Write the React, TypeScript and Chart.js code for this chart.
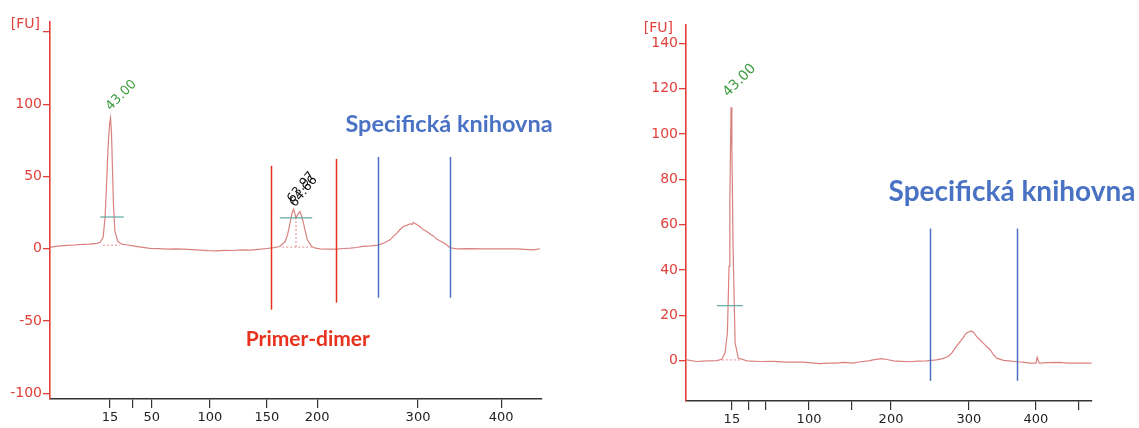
import React, { useEffect, useRef } from 'react';
import { Chart, registerables } from 'chart.js';

Chart.register(...registerables);

// ---------- Left run (with primer-dimer) ----------
const leftTime = [0, 1.5, 3.5, 5, 6.7, 8, 9.6, 10.2, 10.8, 11.2, 11.5, 11.8, 12.1, 12.3, 12.5, 12.7, 12.9, 13.2, 13.8, 14.6, 15.5, 16.9, 18.5, 20.3, 22, 23.8, 25.5, 27.0, 28.8, 30.5, 32.2, 33.9, 35.5, 37.2, 39, 40.7, 42.4, 44.1, 45.5, 46.7, 47.8, 48.3, 48.8, 49.2, 49.5, 49.8, 50.0, 50.3, 50.8, 51.1, 51.5, 52.3, 53.2, 54.0, 54.9, 56.5, 58.3, 59.7, 61.0, 62.3, 63.6, 65.2, 66.7, 67.9, 69.1, 69.8, 70.5, 71.2, 71.8, 72.5, 73.2, 73.6, 73.8, 74.3, 74.9, 75.4, 75.9, 76.5, 77.2, 77.9, 78.6, 79.2, 79.9, 80.6, 81.3, 82.7, 85, 88.0, 91, 94.9, 96.5, 98.2, 99.6];
const leftFU = [1.0, 1.8, 2.3, 2.6, 3.0, 3.2, 3.8, 4.5, 8, 22, 45, 70, 86, 90.6, 80, 55, 30, 12, 5, 3.2, 2.8, 2.0, 1.2, 0.3, 0.1, -0.3, -0.1, -0.3, -0.6, -0.9, -1.3, -1.5, -1.1, -1.2, -0.8, -0.9, -0.4, 0.2, 0.8, 1.6, 5, 10, 18, 25, 27.4, 24, 21.2, 23.5, 25.8, 23, 18, 6.2, 1.6, 0.4, 0, -0.3, -0.2, 0.2, 0.4, 0.9, 1.6, 2.0, 2.5, 4.0, 6.2, 8.6, 10.8, 13.5, 15.4, 16.2, 17.3, 16.8, 18.2, 17.4, 15.9, 14.8, 13.1, 12.2, 10.4, 8.9, 6.7, 5.6, 4.4, 2.8, 0.7, 0, 0.1, 0, -0.1, 0, -0.4, -0.7, 0];
const leftLadderTime = [12.2, 16.7, 20.7, 32.5, 44.1, 54.3, 74.8, 91.7];
const leftLadderLabel = ['15', '', '50', '100', '150', '200', '300', '400'];
const leftYTicks = [-100, -50, 0, 50, 100, 150];
const leftYLabels = ['-100', '-50', '0', '50', '100', ''];
const leftPeaks = [{ t: 12.3, fu: 90.6, label: '43.00' }];
const leftDimerPeaks = [{ t: 49.5, fu: 27.4, label: '63.97' }, { t: 50.8, fu: 25.8, label: '64.66' }];
const leftRegionLines = [
  { t: 44.9, from: -42.2, to: 57.4, kind: 'dimer' },
  { t: 58.1, from: -37.3, to: 62.2, kind: 'dimer' },
  { t: 66.7, from: -33.9, to: 63.6, kind: 'library' },
  { t: 81.3, from: -33.9, to: 63.6, kind: 'library' },
];
const leftHalfHeights = [
  { from: 10.2, to: 15.0, fu: 22 },
  { from: 46.7, to: 53.3, fu: 21.4 },
];

// ---------- Right run (clean library) ----------
const rightTime = [0.2, 2.6, 5.1, 7.6, 8.8, 9.6, 10.2, 10.6, 10.8, 11.1, 11.3, 11.6, 12.1, 12.9, 15.0, 18.2, 21.5, 24.8, 28.8, 31, 33.0, 35, 37.1, 39, 41.2, 42.9, 45, 46.1, 48.2, 49.5, 51.1, 53, 55.2, 57, 59.3, 61.7, 63.2, 64.6, 65.5, 66.3, 67.5, 68.2, 69.0, 70.2, 70.8, 71.6, 72.4, 73.2, 74.0, 74.9, 75.7, 76.5, 78.2, 80, 81.5, 83, 84.7, 86.2, 86.5, 87.0, 89, 92.1, 94, 96.2, 99.9];
const rightFU = [0.4, -0.3, 0, 0.1, 0.7, 3.4, 12.4, 41.6, 71, 111.7, 95, 49, 7.8, 1.2, 0, -0.3, -0.2, -0.6, -0.6, -0.9, -1.2, -1.0, -1.0, -0.7, -1.0, -0.4, 0, 0.4, 1.0, 0.6, 0, -0.2, -0.4, -0.1, 0, 0.4, 1.0, 1.9, 3.5, 5.6, 8.5, 10.0, 12.2, 13.2, 12.6, 10.7, 9.3, 7.8, 6.4, 4.9, 2.8, 1.2, 0.2, -0.1, -0.4, -0.6, -1.0, -1.0, 1.6, -1.0, -0.8, -0.7, -1.0, -1.0, -1.0];
const rightLadderTime = [11.3, 15.3, 19.5, 30.3, 40.9, 50.5, 69.7, 86.2, 96.8];
const rightLadderLabel = ['15', '', '', '100', '', '200', '300', '400', ''];
const rightYTicks = [0, 20, 40, 60, 80, 100, 120, 140];
const rightYLabels = ['0', '20', '40', '60', '80', '100', '120', '140'];
const rightPeaks = [{ t: 11.1, fu: 111.7, label: '43.00' }];
const rightRegionLines = [
  { t: 60.1, from: -8.8, to: 58.3, kind: 'library' },
  { t: 81.5, from: -8.8, to: 58.3, kind: 'library' },
];
const rightHalfHeights = [{ from: 7.6, to: 14.0, fu: 24.3 }];

const RED = '#e2403a';
const TRACE = '#d9817f';
const BLUE = '#4a72c4';
const DIMER_RED = '#e8321e';
const TEAL = '#62a9a6';
const GREEN = '#3c9b3c';

type Cfg = {
  time: number[];
  fu: number[];
  ladderTime: number[];
  ladderLabel: string[];
  yTicks: number[];
  yLabels: string[];
  yMin: number;
  yMax: number;
  yWidth: number;
  xHeight: number;
  padTop: number;
  padRight: number;
  yFont: number;
  peaks: { t: number; fu: number; label: string }[];
  peakFont: number;
  peakOffset: [number, number];
  dimerPeaks: { t: number; fu: number; label: string }[];
  dimerOffsets: [number, number][];
  regionLines: { t: number; from: number; to: number; kind: string }[];
  halfHeights: { from: number; to: number; fu: number }[];
  baselines: { from: number; to: number; fu: number }[];
  centerDots: { t: number; from: number; to: number }[];
  texts: { t: number; fu: number; text: string; color: string; size: number }[];
  fuOffset: [number, number];
};

function overlay(cfg: Cfg) {
  return {
    id: 'overlay',
    afterDatasetsDraw(chart: any) {
      const { ctx, scales } = chart;
      const x = scales.x;
      const y = scales.y;
      ctx.save();
      ctx.strokeStyle = '#e08a88';
      ctx.lineWidth = 1;
      ctx.setLineDash([2, 2]);
      cfg.baselines.forEach((b) => {
        ctx.beginPath();
        ctx.moveTo(x.getPixelForValue(b.from), y.getPixelForValue(b.fu));
        ctx.lineTo(x.getPixelForValue(b.to), y.getPixelForValue(b.fu));
        ctx.stroke();
      });
      cfg.centerDots.forEach((c) => {
        ctx.beginPath();
        ctx.moveTo(x.getPixelForValue(c.t), y.getPixelForValue(c.from));
        ctx.lineTo(x.getPixelForValue(c.t), y.getPixelForValue(c.to));
        ctx.stroke();
      });
      ctx.setLineDash([]);
      ctx.strokeStyle = TEAL;
      ctx.lineWidth = 1.2;
      cfg.halfHeights.forEach((h) => {
        ctx.beginPath();
        ctx.moveTo(x.getPixelForValue(h.from), y.getPixelForValue(h.fu));
        ctx.lineTo(x.getPixelForValue(h.to), y.getPixelForValue(h.fu));
        ctx.stroke();
      });
      ctx.lineWidth = 1.5;
      cfg.regionLines.forEach((r) => {
        ctx.strokeStyle = r.kind === 'dimer' ? DIMER_RED : BLUE;
        const px = Math.round(x.getPixelForValue(r.t)) + 0.5;
        ctx.beginPath();
        ctx.moveTo(px, y.getPixelForValue(r.to));
        ctx.lineTo(px, y.getPixelForValue(r.from));
        ctx.stroke();
      });
      const drawRot = (t: number, fu: number, label: string, color: string, size: number, off: [number, number], ang: number) => {
        ctx.save();
        ctx.translate(x.getPixelForValue(t) + off[0], y.getPixelForValue(fu) + off[1]);
        ctx.rotate(ang);
        ctx.fillStyle = color;
        ctx.font = `${size}px "DejaVu Sans"`;
        ctx.textAlign = 'left';
        ctx.textBaseline = 'alphabetic';
        ctx.fillText(label, 0, 0);
        ctx.restore();
      };
      cfg.peaks.forEach((p) => drawRot(p.t, p.fu, p.label, GREEN, cfg.peakFont, cfg.peakOffset, -Math.PI / 4));
      cfg.dimerPeaks.forEach((p, i) =>
        drawRot(p.t, p.fu, p.label, '#111', 12.5, cfg.dimerOffsets[i], -Math.PI / 4 - 0.1)
      );
      cfg.texts.forEach((tx) => {
        ctx.fillStyle = tx.color;
        ctx.font = `bold ${tx.size}px Lato`;
        ctx.textAlign = 'center';
        ctx.textBaseline = 'middle';
        ctx.fillText(tx.text, x.getPixelForValue(tx.t), y.getPixelForValue(tx.fu));
      });
      ctx.fillStyle = RED;
      ctx.font = '14px "DejaVu Sans"';
      ctx.textAlign = 'right';
      ctx.textBaseline = 'middle';
      ctx.fillText('[FU]', y.right + cfg.fuOffset[0], chart.chartArea.top + cfg.fuOffset[1]);
      ctx.restore();
    },
  };
}

function makeChart(canvas: HTMLCanvasElement, cfg: Cfg) {
  const data = cfg.time.map((t, i) => ({ x: t, y: cfg.fu[i] }));
  return new Chart(canvas, {
    type: 'line',
    data: {
      datasets: [
        {
          data,
          borderColor: TRACE,
          borderWidth: 1.2,
          pointRadius: 0,
          tension: 0,
          fill: false,
        },
      ],
    },
    options: {
      animation: false,
      responsive: false,
      maintainAspectRatio: false,
      layout: { padding: { top: cfg.padTop, right: cfg.padRight, bottom: 0, left: 0 } },
      plugins: { legend: { display: false }, tooltip: { enabled: false } },
      scales: {
        x: {
          type: 'linear',
          min: 0,
          max: 100,
          afterBuildTicks: (s: any) => {
            s.ticks = cfg.ladderTime.map((v) => ({ value: v }));
          },
          afterFit: (s: any) => {
            s.height = cfg.xHeight;
          },
          ticks: {
            autoSkip: false,
            maxRotation: 0,
            padding: 2,
            color: '#222',
            font: { family: 'DejaVu Sans', size: 13 },
            callback: (_v: any, i: number) => cfg.ladderLabel[i],
          },
          grid: { drawOnChartArea: false, drawTicks: true, tickLength: 9, color: '#333', lineWidth: 1.2 },
          border: { display: true, color: '#333', width: 1.5 },
        },
        y: {
          type: 'linear',
          min: cfg.yMin,
          max: cfg.yMax,
          afterBuildTicks: (s: any) => {
            s.ticks = cfg.yTicks.map((v) => ({ value: v }));
          },
          afterFit: (s: any) => {
            s.width = cfg.yWidth;
          },
          ticks: {
            autoSkip: false,
            padding: 1,
            color: RED,
            font: { family: 'DejaVu Sans', size: cfg.yFont },
            callback: (_v: any, i: number) => cfg.yLabels[i],
          },
          grid: { drawOnChartArea: false, drawTicks: true, tickLength: 7, color: RED, lineWidth: 1.3 },
          border: { display: true, color: RED, width: 1.6 },
        },
      },
    },
    plugins: [overlay(cfg)],
  } as any);
}

const leftCfg: Cfg = {
  time: leftTime,
  fu: leftFU,
  ladderTime: leftLadderTime,
  ladderLabel: leftLadderLabel,
  yTicks: leftYTicks,
  yLabels: leftYLabels,
  yMin: -104,
  yMax: 157,
  yWidth: 50,
  xHeight: 29,
  padTop: 22,
  padRight: 18,
  yFont: 14,
  peaks: leftPeaks,
  peakFont: 13,
  peakOffset: [0, -7],
  dimerPeaks: leftDimerPeaks,
  dimerOffsets: [[-1, -6], [-5, -4]],
  regionLines: leftRegionLines,
  halfHeights: leftHalfHeights,
  baselines: [
    { from: 10.8, to: 14.2, fu: 2.5 },
    { from: 47.2, to: 53.2, fu: 1.2 },
  ],
  centerDots: [{ t: 50.0, from: 1.2, to: 21.2 }],
  texts: [
    { t: 81.1, fu: 85.8, text: 'Specifická knihovna', color: BLUE, size: 23.5 },
    { t: 52.4, fu: -62.9, text: 'Primer-dimer', color: DIMER_RED, size: 21 },
  ],
  fuOffset: [-10, 2],
};

const rightCfg: Cfg = {
  time: rightTime,
  fu: rightFU,
  ladderTime: rightLadderTime,
  ladderLabel: rightLadderLabel,
  yTicks: rightYTicks,
  yLabels: rightYLabels,
  yMin: -17.7,
  yMax: 148,
  yWidth: 86,
  xHeight: 27,
  padTop: 25,
  padRight: 47,
  yFont: 14,
  peaks: rightPeaks,
  peakFont: 14,
  peakOffset: [-3, -10],
  dimerPeaks: [],
  dimerOffsets: [],
  regionLines: rightRegionLines,
  halfHeights: rightHalfHeights,
  baselines: [{ from: 8.8, to: 13.5, fu: 0.4 }],
  centerDots: [],
  texts: [{ t: 80.3, fu: 74.6, text: 'Specifická knihovna', color: BLUE, size: 28 }],
  fuOffset: [-13, 3],
};

export default function App() {
  const leftRef = useRef<HTMLCanvasElement | null>(null);
  const rightRef = useRef<HTMLCanvasElement | null>(null);

  useEffect(() => {
    const c1 = makeChart(leftRef.current as HTMLCanvasElement, leftCfg);
    const c2 = makeChart(rightRef.current as HTMLCanvasElement, rightCfg);
    return () => {
      c1.destroy();
      c2.destroy();
    };
  }, []);

  return (
    <div style={{ position: 'absolute', left: 0, top: 0, width: 1139, height: 428, background: '#fff', overflow: 'hidden' }}>
      <canvas ref={leftRef} width={560} height={428} style={{ position: 'absolute', left: 0, top: 0, width: 560, height: 428 }} />
      <canvas ref={rightRef} width={539} height={428} style={{ position: 'absolute', left: 600, top: 0, width: 539, height: 428 }} />
    </div>
  );
}
